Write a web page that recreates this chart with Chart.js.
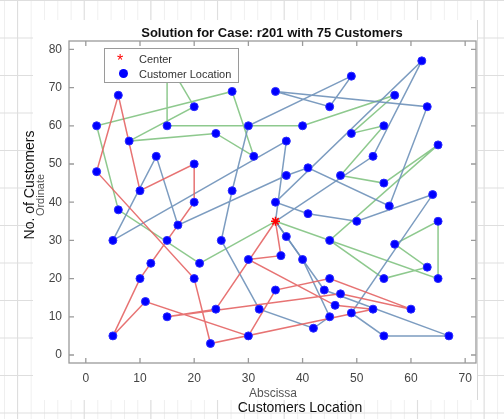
<!DOCTYPE html>
<html>
<head>
<meta charset="utf-8">
<script src="https://cdn.jsdelivr.net/npm/chart.js@4.4.1/dist/chart.umd.min.js"></script>
<style>
  body { margin: 0; background: #fff; }
  #wrap { position: relative; width: 504px; height: 419px; overflow: hidden; font-family: "Liberation Sans", Arial, sans-serif; }
  #sheet {
    position: absolute; left: 0; top: 0; width: 504px; height: 419px;
    background-color: #fff;
    background-image:
      linear-gradient(to right, #dedede 1px, transparent 1px),
      linear-gradient(to bottom, #dedede 1px, transparent 1px),
      linear-gradient(to right, #efefef 1px, transparent 1px);
    background-size: 66.67px 100%, 100% 37.5px, 13.33px 100%;
    background-position: 17px 0, 0 0, 4px 0;
  }
  #figure { position: absolute; left: 33px; top: 20px; width: 444px; height: 380px; background: #fff; border-right: 1px solid #d8d8d8; }
  canvas { position: absolute; left: 0; top: 0; }
  .txt { position: absolute; white-space: nowrap; }
  #title { left: 272px; top: 32px; transform: translate(-50%, -50%); font-weight: bold; font-size: 13px; color: #111; }
  #xlab { left: 273px; top: 393px; transform: translate(-50%, -50%); font-size: 12px; color: #555; }
  #xlab2 { left: 300px; top: 407px; transform: translate(-50%, -50%); font-size: 14px; color: #111; }
  #ylab { left: 40px; top: 195px; transform: translate(-50%, -50%) rotate(-90deg); font-size: 11px; color: #555; }
  #ylab2 { left: 29px; top: 185px; transform: translate(-50%, -50%) rotate(-90deg); font-size: 14px; color: #111; }
  #legend { position: absolute; left: 104px; top: 48px; width: 133px; height: 33px; background: #fff; border: 1px solid #9a9a9a; font-size: 11px; color: #333; }
  #legend .row { position: absolute; left: 34px; white-space: nowrap; transform: translateY(-50%); }
  #legend .star { position: absolute; left: 12px; top: 4px; color: #ff0000; font-size: 16px; line-height: 16px; }
  #legend .dot { position: absolute; left: 14px; top: 20px; width: 9px; height: 9px; border-radius: 50%; background: #0000ff; }
</style>
</head>
<body>
<div id="wrap">
  <div id="sheet"></div>
  <div id="figure"></div>
  <canvas id="routeChart" width="504" height="419"></canvas>
  <div class="txt" id="title">Solution for Case: r201 with 75 Customers</div>
  <div class="txt" id="xlab">Abscissa</div>
  <div class="txt" id="xlab2">Customers Location</div>
  <div class="txt" id="ylab">Ordinate</div>
  <div class="txt" id="ylab2">No. of Customers</div>
  <div id="legend">
    <span class="star">*</span><span class="row" style="top:10px">Center</span>
    <span class="dot"></span><span class="row" style="top:25px">Customer Location</span>
  </div>
</div>
<script>
// depot and customers (r201, first 75 customers)
const depotX = 35;
const depotY = 35;
const custX = [41, 35, 55, 55, 15, 25, 20, 10, 55, 30, 20, 50, 30, 15, 30, 10, 5, 20, 15, 45,
               45, 45, 55, 65, 65, 45, 35, 41, 64, 40, 31, 35, 53, 65, 63, 2, 20, 5, 60, 40,
               42, 24, 23, 11, 6, 2, 8, 13, 6, 47, 49, 27, 37, 57, 63, 53, 32, 36, 21, 17,
               12, 24, 27, 15, 62, 49, 67, 56, 37, 37, 57, 47, 44, 46, 49];
const custY = [49, 17, 45, 20, 30, 30, 50, 43, 60, 60, 65, 35, 25, 10, 5, 20, 30, 40, 60, 65,
               20, 10, 5, 35, 20, 30, 40, 37, 42, 60, 52, 69, 52, 55, 65, 60, 20, 5, 12, 25,
               7, 12, 3, 14, 38, 48, 56, 52, 68, 47, 58, 43, 31, 29, 23, 12, 12, 26, 24, 34,
               24, 58, 69, 77, 77, 73, 5, 39, 47, 56, 68, 16, 17, 13, 11];

// routes as customer numbers, 0 = center
const redRoute = [0, 58, 13, 74, 56, 43, 37, 46, 49, 8, 7, 18, 5, 61, 16, 38, 44, 15, 2, 21, 39, 72, 14, 42, 0];
const greenRoute = [0, 59, 45, 36, 63, 31, 62, 47, 11, 64, 19, 30, 71, 51, 9, 50, 3, 34, 26, 4, 55, 54, 24, 25, 0];
const blueRoute1 = [0, 70, 17, 48, 60, 69, 1, 68, 35, 32, 20, 66, 10, 52, 6, 57, 41, 22, 40, 0];
const blueRoute2 = [0, 33, 65, 27, 28, 12, 29, 75, 23, 67, 73, 53, 0];

const xTicks = [0, 10, 20, 30, 40, 50, 60, 70];
const yTicks = [0, 10, 20, 30, 40, 50, 60, 70, 80];

function routePoints(route) {
    return route.map(function (id) {
        if (id === 0) return {x: depotX, y: depotY};
        return {x: custX[id - 1], y: custY[id - 1]};
    });
}

function routeSet(label, route, color) {
    return {
        label: label,
        data: routePoints(route),
        showLine: true,
        borderColor: color,
        borderWidth: 1.5,
        pointRadius: 0,
        fill: false,
        tension: 0,
        order: 3
    };
}

const frame = {
    id: 'frame',
    afterDraw(chart) {
        const ctx = chart.ctx;
        const a = chart.chartArea;
        const xs = chart.scales.x, ys = chart.scales.y;
        ctx.save();
        ctx.strokeStyle = '#9a9a9a';
        ctx.lineWidth = 1.3;
        ctx.strokeRect(a.left, a.top, a.right - a.left, a.bottom - a.top);
        ctx.beginPath();
        xTicks.forEach(function (v) {
            const px = xs.getPixelForValue(v);
            ctx.moveTo(px, a.bottom); ctx.lineTo(px, a.bottom - 5);
            ctx.moveTo(px, a.top); ctx.lineTo(px, a.top + 5);
        });
        yTicks.forEach(function (v) {
            const py = ys.getPixelForValue(v);
            ctx.moveTo(a.left, py); ctx.lineTo(a.left + 5, py);
            ctx.moveTo(a.right, py); ctx.lineTo(a.right - 5, py);
        });
        ctx.stroke();
        ctx.restore();
    }
};

const CHART = document.getElementById('routeChart');
let routeChart = new Chart(CHART, {
    type: 'scatter',
    data: {
        datasets: [
            {
                label: 'Center',
                data: [{x: depotX, y: depotY}],
                pointStyle: 'star',
                pointRadius: 4.5,
                borderColor: '#ff0000',
                backgroundColor: '#ff0000',
                borderWidth: 1.5,
                order: 0
            },
            {
                label: 'Customer Location',
                data: custX.map(function (x, i) { return {x: x, y: custY[i]}; }),
                pointStyle: 'circle',
                pointRadius: 4,
                backgroundColor: '#0000ff',
                borderColor: '#2b2bff',
                borderWidth: 1,
                order: 1
            },
            routeSet('Route 1', redRoute, 'rgba(228,100,100,0.9)'),
            routeSet('Route 2', blueRoute1, 'rgba(110,145,185,0.9)'),
            routeSet('Route 3', blueRoute2, 'rgba(110,145,185,0.9)'),
            routeSet('Route 4', greenRoute, 'rgba(130,195,130,0.9)')
        ]
    },
    options: {
        responsive: false,
        animation: false,
        layout: {padding: {left: 0, right: 28, top: 41, bottom: 0}},
        plugins: {
            legend: {display: false},
            title: {display: false},
            tooltip: {enabled: false}
        },
        scales: {
            x: {
                type: 'linear',
                min: -3.1,
                max: 72,
                afterBuildTicks: function (s) { s.ticks = xTicks.map(function (v) { return {value: v}; }); },
                afterFit: function (s) { s.height = 56; },
                grid: {display: false, drawTicks: false},
                border: {display: false},
                ticks: {color: '#444', font: {family: 'Liberation Sans', size: 12}, padding: 8, maxRotation: 0}
            },
            y: {
                type: 'linear',
                min: -2.1,
                max: 82.2,
                afterBuildTicks: function (s) { s.ticks = yTicks.map(function (v) { return {value: v}; }); },
                afterFit: function (s) { s.width = 69; },
                grid: {display: false, drawTicks: false},
                border: {display: false},
                ticks: {color: '#444', font: {family: 'Liberation Sans', size: 12}, padding: 7}
            }
        }
    },
    plugins: [frame]
});
</script>
</body>
</html>
